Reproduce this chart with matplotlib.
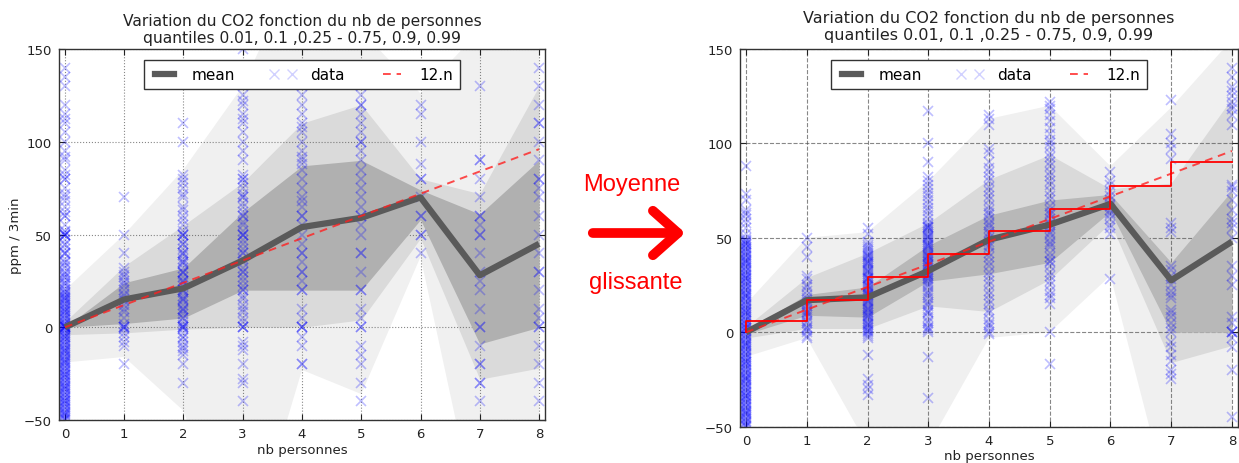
import matplotlib
matplotlib.use("Agg")
import matplotlib.pyplot as plt
from matplotlib.lines import Line2D
from matplotlib.patches import FancyArrowPatch

# ---------------- data ----------------
n_pers = [0, 1, 2, 3, 4, 5, 6, 7, 8]
x_ticks = [0, 1, 2, 3, 4, 5, 6, 7, 8]
y_ticks = [-50, 0, 50, 100, 150]
title_text = "Variation du CO2 fonction du nb de personnes\nquantiles 0.01, 0.1 ,0.25 - 0.75, 0.9, 0.99"

# left panel (raw)
left_mean = [0, 15, 21, 36, 54, 59, 70, 28, 45]
left_q01 = [-19, -16, -45, -130, -23, -36, 38, -110, -70]
left_q10 = [-4, -3, -1, 0, 0, 4, 48, -28, -22]
left_q25 = [0, 2, 5, 20, 20, 20, 58, -9, 0]
left_q75 = [0, 24, 32, 62, 87, 90, 74, 61, 90]
left_q90 = [3, 33, 55, 78, 110, 120, 80, 72, 130]
left_q99 = [20, 50, 85, 130, 200, 160, 126, 160, 170]

left_data = {
    0: [-50, -49, -48, -47, -46, -45, -44, -43, -42, -41, -40, -39, -38, -37, -36, -35, -34, -33, -32, -31,
        -30, -29, -28, -27, -26, -25, -24, -23, -22, -21, -20, -19, -18, -17, -16, -15, -14, -13, -12, -11,
        -10, -9, -8, -7, -6, -5, -4, -3, -2, -1, 0, 0, 0, 0, 0, 1, 2, 3, 4, 5, 6, 7, 8, 9, 10, 11, 12, 13,
        14, 15, 16, 17, 18, 19, 20, 22, 24, 25, 27, 28, 30, 32, 33, 35, 37, 40, 40, 42, 45, 47, 50, 50, 50,
        52, 55, 60, 60, 62, 65, 68, 70, 72, 75, 80, 80, 82, 85, 90, 92, 95, 100, 105, 110, 112, 115, 120,
        130, 135, 140,
        -49.5, -47.5, -45.5, -43.5, -41.5, -39.5, -37.5, -35.5, -33.5, -31.5, -29.5, -27.5, -25.5, -23.5,
        -21.5, -19.5, -17.5, -15.5, -13.5, -11.5, -9.5, -7.5, -5.5, -3.5, -1.5, 0.5, 2.5, 4.5, 6.5, 8.5,
        10.5, 12.5, 14.5, 16.5, 18.5, 20.5, 23.5, 26.5, 29.5, 34.5, 39.5, 44.5, 49.5, 51.5],
    1: [-20, -10, -8, -5, -3, -1, 0, 0, 0, 2, 5, 8, 10, 12, 14, 15, 17, 18, 20, 22, 24, 25, 27, 28, 30, 32,
        40, 50, 70],
    2: [-30, -20, -15, -13, -11, -10, -8, -6, -5, -3, -1, 0, 0, 1, 3, 5, 7, 9, 10, 12, 14, 15, 17, 19, 20,
        22, 24, 25, 27, 29, 30, 32, 34, 35, 37, 39, 40, 42, 45, 47, 50, 50, 52, 55, 58, 60, 63, 65, 70, 72,
        75, 78, 80, 82, 100, 110, 0, 5, 10, 15, 20, 25, 30, 35, 40, 45, 50],
    3: [-40, -30, -28, -20, -12, -10, -8, 0, 0, 0, 3, 5, 8, 10, 12, 15, 17, 20, 22, 25, 27, 30, 32, 35, 37,
        40, 42, 45, 47, 50, 50, 52, 55, 57, 60, 62, 65, 67, 70, 72, 75, 78, 80, 82, 90, 95, 100, 105, 110,
        112, 115, 120, 122, 125, 130, 150, 20, 30, 40, 50, 60, 70, 80],
    4: [-20, -20, -10, -5, 0, 0, 0, 5, 10, 20, 20, 25, 30, 30, 35, 40, 40, 45, 50, 55, 60, 60, 65, 68, 70,
        75, 80, 85, 88, 90, 92, 95, 100, 105, 108, 110, 115, 120, 125, 130, 135, 140],
    5: [-40, -30, -20, -15, -10, 0, 0, 5, 10, 20, 20, 30, 40, 40, 50, 55, 60, 60, 65, 70, 75, 80, 85, 90, 95,
        100, 100, 105, 110, 115, 120, 120, 125, 130],
    6: [40, 50, 50, 60, 60, 70, 80, 80, 88, 100, 115, 120],
    7: [-40, -30, -30, -20, -20, -10, 0, 0, 10, 20, 25, 30, 40, 50, 50, 55, 60, 60, 70, 80, 90, 90, 130],
    8: [-40, -30, -20, -10, 0, 0, 5, 10, 20, 30, 30, 40, 50, 60, 70, 75, 80, 80, 90, 100, 110, 110, 120, 130,
        140],
}

# right panel (moving average)
right_mean = [0, 17, 18.5, 32.5, 49, 57, 68, 27.5, 48]
right_q01 = [-13, -3, -60, -60, -3, 0, 30, -95, -60]
right_q10 = [-3, 2, 2, 14, 11, 28, 58, -16, -7]
right_q25 = [-1, 9, 8, 27, 31, 37, 64, 0, 0]
right_q75 = [1, 20, 24, 46, 62, 70, 73, 37, 75]
right_q90 = [3, 29, 42, 58, 81, 94, 76, 79, 124]
right_q99 = [15, 50, 53, 80, 113, 120, 88, 119, 155]
right_step = [6, 17, 29.5, 41.5, 53.5, 65.5, 77.5, 90]

right_data = {
    0: [-50, -49, -48, -47, -46, -45, -44, -43, -42, -41, -40, -39, -38, -37, -36, -35, -34, -33, -32, -31,
        -30, -29, -28, -27, -26, -25, -24, -23, -22, -21, -20, -19, -18, -17, -16, -15, -14, -13, -12, -11,
        -10, -9, -8, -7, -6, -5, -4, -3, -2, -1, 0, 1, 2, 3, 4, 5, 6, 7, 8, 9, 10, 11, 12, 13, 14, 15, 16,
        17, 18, 19, 20, 21, 22, 23, 24, 25, 26, 27, 28, 29, 30, 31, 32, 33, 34, 35, 36, 37, 38, 39, 40, 41,
        42, 43, 44, 45, 46, 47, 48, 49, 50, 52, 55, 58, 60, 62, 63, 65, 70, 73, 88,
        -49.5, -47.5, -45.5, -43.5, -41.5, -39.5, -37.5, -35.5, -33.5, -31.5, -29.5, -27.5, -25.5, -23.5,
        -21.5, -19.5, -17.5, -15.5, -13.5, -11.5, -9.5, -7.5, -5.5, -3.5, -1.5, 0.5, 2.5, 4.5, 6.5, 8.5,
        10.5, 12.5, 14.5, 16.5, 18.5, 20.5, 22.5, 24.5, 26.5, 28.5, 30.5, 32.5, 34.5, 36.5, 38.5, 40.5,
        42.5, 44.5, 46.5, 48.5],
    1: [-3, -2, 0, 1, 2, 3, 5, 6, 8, 9, 10, 11, 12, 14, 15, 16, 17, 18, 20, 22, 24, 25, 28, 30, 40, 45, 50],
    2: [-33, -30, -28, -25, -12, -3, -2, -1, 0, 1, 2, 3, 4, 5, 6, 7, 8, 9, 10, 11, 12, 13, 14, 15, 16, 17,
        18, 19, 20, 21, 22, 23, 24, 25, 26, 27, 28, 29, 30, 31, 32, 33, 34, 35, 36, 37, 38, 39, 40, 41, 42,
        43, 44, 45, 46, 48, 52, 55, 0.5, 4.5, 8.5, 12.5, 16.5, 20.5, 24.5, 28.5, 32.5, 36.5, 40.5],
    3: [-35, -13, 0, 1, 2, 3, 5, 6, 8, 10, 11, 12, 14, 15, 16, 18, 20, 21, 22, 24, 25, 26, 27, 28, 29, 30,
        31, 32, 33, 34, 35, 36, 37, 38, 39, 40, 41, 42, 43, 44, 45, 46, 47, 48, 49, 50, 51, 52, 53, 54, 55,
        56, 57, 58, 60, 62, 64, 66, 68, 70, 72, 74, 76, 78, 80, 82, 90, 100, 117, 30.5, 35.5, 40.5, 45.5,
        50.5, 55.5],
    4: [-1, 0, 2, 4, 5, 7, 10, 12, 15, 17, 20, 22, 25, 27, 30, 32, 35, 37, 40, 42, 45, 46, 48, 50, 52, 53,
        55, 57, 58, 60, 62, 63, 65, 67, 70, 72, 75, 77, 80, 82, 85, 87, 90, 95, 97, 110, 113, 115],
    5: [-17, 0, 15, 18, 20, 22, 25, 27, 30, 32, 35, 37, 38, 40, 42, 45, 47, 48, 50, 52, 53, 55, 57, 58, 60,
        62, 63, 65, 67, 70, 72, 75, 78, 80, 83, 85, 88, 90, 93, 95, 98, 100, 102, 105, 108, 112, 115, 118,
        120, 122],
    6: [28, 52, 55, 57, 60, 62, 63, 65, 67, 68, 70, 72, 75, 78, 80, 85],
    7: [-25, -22, -20, -15, -12, -8, -5, 0, 2, 5, 8, 10, 12, 18, 20, 22, 25, 28, 30, 33, 35, 53, 55, 58, 92,
        97, 100, 105, 123],
    8: [-45, -20, -8, -3, 0, 0, 0, 5, 8, 25, 30, 35, 50, 55, 58, 60, 65, 70, 75, 77, 78, 110, 115, 118, 120,
        122, 125, 128, 130, 135, 140],
}

# ---------------- figure ----------------
W, H = 1239, 464
fig = plt.figure(figsize=(W / 100, H / 100), dpi=100)
fig.patch.set_facecolor("white")

MEAN_COLOR = "#5a5a5a"
DATA_ALPHA = 0.25


def panel(rect, mean, q01, q10, q25, q75, q90, q99, data, grid_ls, dark, title_size, title_pad, ylabel):
    ax = fig.add_axes(rect)
    ax.fill_between(n_pers, q01, q99, color="#f0f0f0", lw=0, zorder=1)
    ax.fill_between(n_pers, q10, q90, color="#dadada", lw=0, zorder=2)
    ax.fill_between(n_pers, q25, q75, color=dark, lw=0, zorder=3)
    for k in n_pers:
        ys = data[k]
        ax.plot([k] * len(ys), ys, "x", color="blue", alpha=DATA_ALPHA, ms=7, mew=1.2, zorder=4)
    ax.plot(n_pers, mean, color=MEAN_COLOR, lw=4.5, zorder=5, solid_capstyle="butt")
    ax.plot(n_pers, [12 * k for k in n_pers], color="#ff2020", alpha=0.8, lw=1.4,
            dashes=(4, 3), zorder=6)
    ax.set_xlim(-0.1, 8.1)
    ax.set_ylim(-50, 150)
    ax.set_xticks(x_ticks)
    ax.set_yticks(y_ticks)
    ax.tick_params(direction="in", length=4, top=True, right=True, labelsize=9.5, pad=5,
                   colors="#222222")
    ax.grid(True, color="#555555", ls=grid_ls, lw=0.8, alpha=0.7)
    ax.set_axisbelow(False)
    for s in ax.spines.values():
        s.set_color("#333333")
        s.set_linewidth(1.0)
        s.set_zorder(10)
    ax.set_xlabel("nb personnes", fontsize=9.5, labelpad=2, color="#222222")
    if ylabel:
        ax.set_ylabel(ylabel, fontsize=9.5, color="#222222")
        ax.yaxis.set_label_coords((22 - 59) / 486, 0.5)
    ax.set_title(title_text, fontsize=title_size, pad=title_pad, color="#222222", linespacing=1.15)
    handles = [
        Line2D([], [], color=MEAN_COLOR, lw=4.5),
        Line2D([], [], color="blue", marker="x", ls="none", alpha=0.18, ms=7),
        Line2D([], [], color="#ff2020", alpha=0.8, lw=1.4, dashes=(4, 3)),
    ]
    leg = ax.legend(handles, ["mean", "data", "12.n"], loc="upper center", ncol=3, fontsize=11,
                    numpoints=2, handlelength=1.8, columnspacing=2.2, borderaxespad=0.75,
                    fancybox=False, framealpha=1, edgecolor="#333333", handletextpad=0.9,
                    borderpad=0.45)
    leg.get_frame().set_linewidth(1.0)
    leg.set_zorder(20)
    return ax


axL = panel([59 / W, 1 - 421 / H, 486 / W, 371 / H], left_mean, left_q01, left_q10, left_q25,
            left_q75, left_q90, left_q99, left_data, ":", "#b0b0b0", 11.2, 5, "ppm / 3min")

axR = panel([740 / W, 1 - 427.7 / H, 498 / W, 377.7 / H], right_mean, right_q01, right_q10,
            right_q25, right_q75, right_q90, right_q99, right_data, "--", "#b8b8b8", 11.5, 7, None)
axR.step(n_pers, [0] + right_step, where="pre", color="red", lw=1.3, zorder=7)

# arrow + text in the middle
arrow = FancyArrowPatch((590 / W, 1 - 234 / H), (688 / W, 1 - 234 / H), transform=fig.transFigure,
                        arrowstyle="->,head_length=0.45,head_width=0.4", mutation_scale=40,
                        color="red", lw=7, capstyle="round", joinstyle="round")
fig.add_artist(arrow)
fig.text(632 / W, 1 - 185 / H, "Moyenne", color="red", fontsize=17, ha="center", va="center",
         family="Liberation Sans")
fig.text(636 / W, 1 - 283 / H, "glissante", color="red", fontsize=17, ha="center", va="center",
         family="Liberation Sans")

fig.savefig("out.png", dpi=100, facecolor="white")
